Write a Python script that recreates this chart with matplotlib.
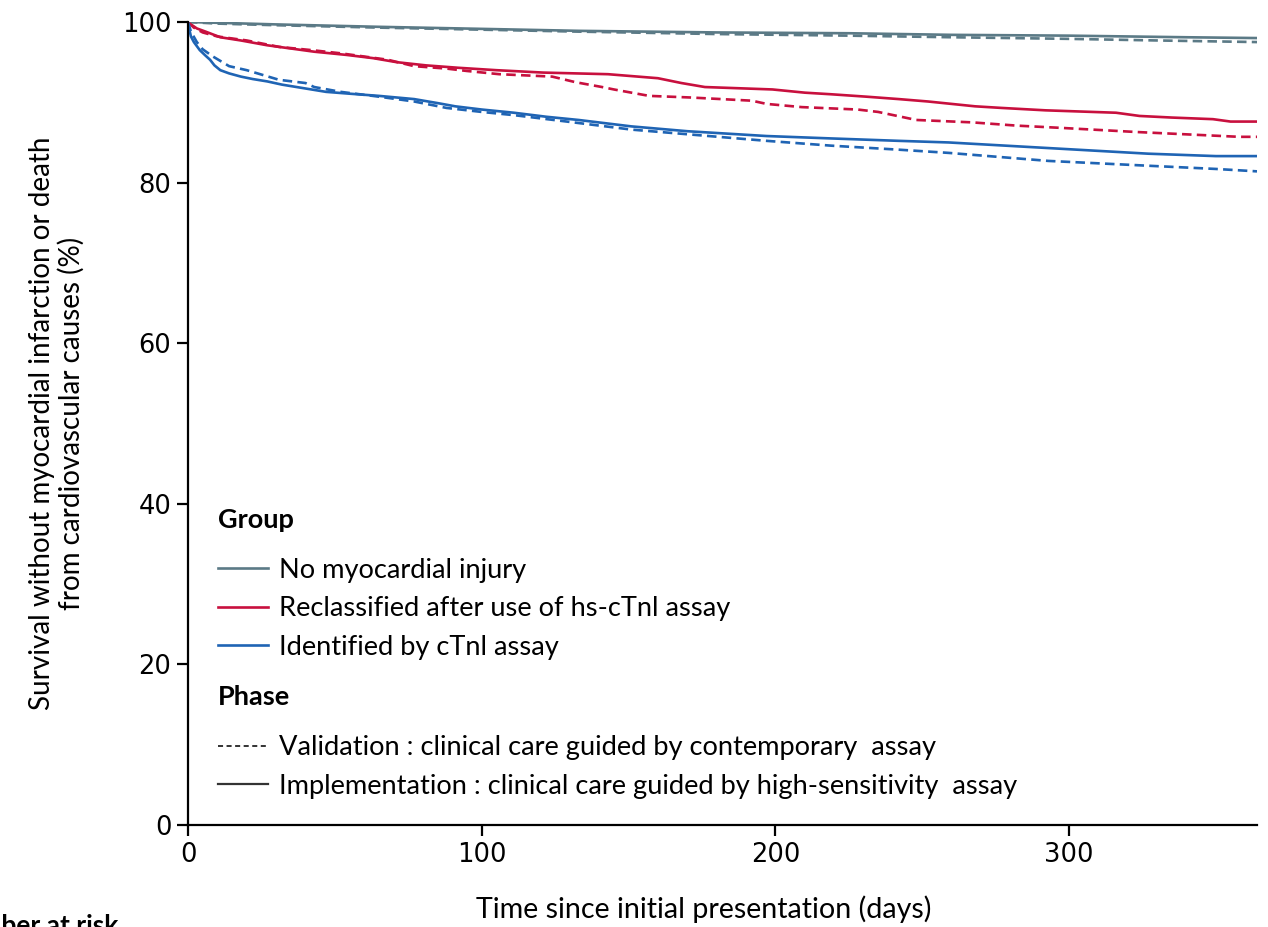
import numpy as np
import matplotlib
matplotlib.use("Agg")
from matplotlib import pyplot as plt
from matplotlib.lines import Line2D

plt.rcParams['font.family'] = ['Lato', 'DejaVu Sans']

# Kaplan-Meier curves (days, survival %)
grey_impl_days = [0, 10, 30, 65, 106, 133, 180, 225, 260, 300, 340, 364]
grey_impl_surv = [100, 99.9, 99.7, 99.4, 99.1, 98.9, 98.7, 98.6, 98.4, 98.3, 98.1, 98.0]
grey_val_days = [0, 10, 30, 65, 106, 133, 180, 225, 260, 300, 330, 364]
grey_val_surv = [100, 99.8, 99.6, 99.3, 99.0, 98.8, 98.5, 98.3, 98.1, 97.9, 97.7, 97.5]

red_impl_days = [0, 1, 3, 6, 11, 18, 27, 35, 43, 54, 63, 71, 81, 92, 105, 121, 143,
                 160, 168, 176, 199, 210, 219, 231, 242, 252, 268, 277, 292, 316,
                 324, 335, 349, 355, 364]
red_impl_surv = [100, 99.7, 99.2, 98.8, 98.1, 97.7, 97.1, 96.7, 96.3, 95.9, 95.5, 95.0,
                 94.6, 94.3, 94.0, 93.7, 93.5, 93.0, 92.4, 91.9, 91.6, 91.2, 91.0, 90.7,
                 90.4, 90.1, 89.5, 89.3, 89.0, 88.7, 88.3, 88.1, 87.9, 87.6, 87.6]
red_val_days = [0, 2, 5, 10, 20, 31, 42, 52, 60, 68, 77, 88, 95, 106, 124, 132, 141,
                145, 157, 171, 192, 197, 209, 228, 235, 248, 267, 282, 298, 323, 358, 364]
red_val_surv = [100, 99.3, 98.7, 98.2, 97.7, 96.9, 96.5, 96.1, 95.7, 95.3, 94.5, 94.2,
                93.9, 93.5, 93.2, 92.5, 91.9, 91.6, 90.8, 90.6, 90.2, 89.8, 89.4, 89.1,
                88.8, 87.8, 87.5, 87.1, 86.8, 86.3, 85.7, 85.7]

blue_impl_days = [0, 0.5, 1, 2, 3, 4, 6, 7.5, 9, 11, 14, 18, 22, 27, 32, 37, 47, 54,
                  65, 77, 85, 91, 100, 111, 122, 133, 151, 170, 197, 219, 242, 259,
                  293, 327, 350, 364]
blue_impl_surv = [100, 99.0, 98.2, 97.5, 97.0, 96.5, 95.8, 95.3, 94.6, 94.0, 93.6, 93.2,
                  92.9, 92.6, 92.2, 91.9, 91.3, 91.1, 90.8, 90.4, 89.9, 89.5, 89.1,
                  88.7, 88.2, 87.8, 87.0, 86.4, 85.8, 85.5, 85.2, 85.0, 84.3, 83.6,
                  83.3, 83.3]
blue_val_days = [0, 1, 3, 5, 8.5, 14, 20, 31, 40, 43, 52, 65, 77, 88, 100, 111, 129,
                 151, 174, 197, 219, 242, 259, 293, 327, 350, 364]
blue_val_surv = [100, 98.8, 97.5, 96.6, 95.7, 94.5, 94.0, 92.8, 92.4, 91.9, 91.3, 90.7,
                 90.1, 89.3, 88.8, 88.4, 87.6, 86.6, 85.9, 85.2, 84.6, 84.1, 83.7,
                 82.7, 82.1, 81.7, 81.4]

group_labels = ["No myocardial injury", "Reclassified after use of hs-cTnl assay",
                "Identified by cTnl assay"]
phase_labels = ["Validation : clinical care guided by contemporary  assay",
                "Implementation : clinical care guided by high-sensitivity  assay"]

c_grey = "#5b7a86"
c_red = "#c8103e"
c_blue = "#1f64b4"
dash = (3.6, 2.0)

fig = plt.figure(figsize=(12.68, 9.27), dpi=100)
ax = fig.add_axes([188/1268, 102/927, 1069/1268, 803/927])

lw = 1.9
for d, s, c in [(grey_impl_days, grey_impl_surv, c_grey),
                (red_impl_days, red_impl_surv, c_red),
                (blue_impl_days, blue_impl_surv, c_blue)]:
    ax.plot(d, s, color=c, lw=lw)
for d, s, c in [(grey_val_days, grey_val_surv, c_grey),
                (red_val_days, red_val_surv, c_red),
                (blue_val_days, blue_val_surv, c_blue)]:
    ax.plot(d, s, color=c, lw=lw, linestyle=(0, dash))

ax.set_xlim(0, 364)
ax.set_ylim(0, 100)
ax.set_xticks([0, 100, 200, 300])
ax.set_yticks([0, 20, 40, 60, 80, 100])
for sp in ['top', 'right']:
    ax.spines[sp].set_visible(False)
for sp in ['left', 'bottom']:
    ax.spines[sp].set_linewidth(1.6)
ax.tick_params(direction='out', length=8, width=1.6, labelsize=18.5, pad=4)
for lab in ax.get_xticklabels() + ax.get_yticklabels():
    lab.set_fontfamily('DejaVu Sans')

ax.set_xlabel("Time since initial presentation (days)", fontsize=20.6)
ax.xaxis.set_label_coords(0.482, -0.088)
ax.set_ylabel("Survival without myocardial infarction or death\nfrom cardiovascular causes (%)",
              fontsize=20, linespacing=1.12)
ax.yaxis.set_label_coords(-0.097, 0.5)

# legends
ax.text(0.028, 0.380, "Group", transform=ax.transAxes, fontsize=19.5,
        fontweight='bold', va='center', ha='left')
group_handles = [Line2D([], [], color=c, lw=lw) for c in [c_grey, c_red, c_blue]]
leg1 = ax.legend(group_handles, group_labels, loc='upper left',
                 bbox_to_anchor=(0.028, 0.333), frameon=False, fontsize=19.6,
                 borderpad=0, borderaxespad=0, handlelength=1.84,
                 handletextpad=0.40, labelspacing=0.5)
ax.add_artist(leg1)

ax.text(0.028, 0.159, "Phase", transform=ax.transAxes, fontsize=19.5,
        fontweight='bold', va='center', ha='left')
phase_handles = [Line2D([], [], color="#333333", lw=1.4, linestyle=(0, (2.6, 1.8))),
                 Line2D([], [], color="#333333", lw=1.6)]
ax.legend(phase_handles, phase_labels, loc='upper left',
          bbox_to_anchor=(0.028, 0.112), frameon=False, fontsize=19.6,
          borderpad=0, borderaxespad=0, handlelength=1.84,
          handletextpad=0.40, labelspacing=0.5)

# cut-off "Number at risk" heading below the plot
fig.text(118/1268, (927-914)/927, "Number at risk", fontsize=19, fontweight='bold',
         ha='right', va='top')

plt.savefig("out.png", dpi=100)
